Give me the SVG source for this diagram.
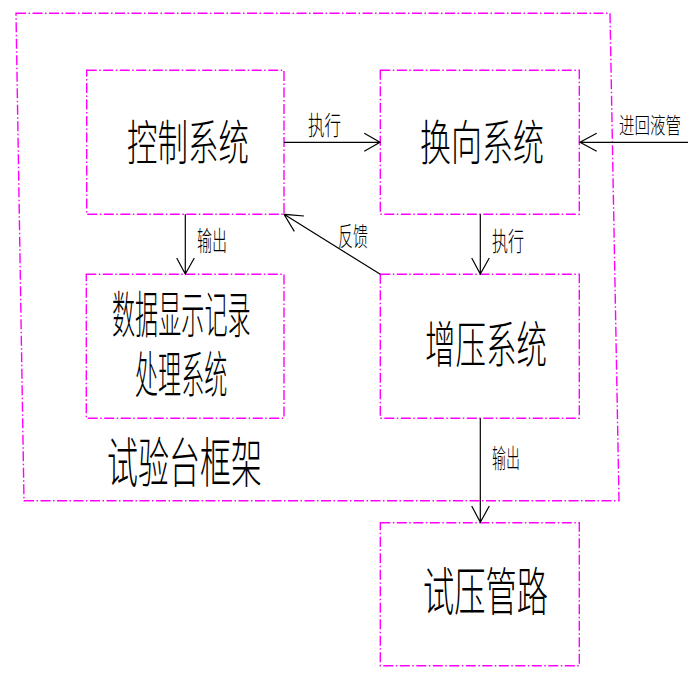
<svg xmlns="http://www.w3.org/2000/svg" width="688" height="676" viewBox="0 0 688 676">
<style>
.box{fill:none;stroke:#FF00FF;stroke-width:1.4;stroke-dasharray:10 2.5 1.5 2.5}
.ln{fill:none;stroke:#000;stroke-width:1.2}
text{font-family:"Liberation Sans","Noto Sans CJK SC","Noto Sans CJK JP",sans-serif;fill:#000;font-weight:300}
</style>
<rect width="688" height="676" fill="#fff"/>
<g id="frame">
<path class="box" d="M16,13.3 L610,13.3 L619,500.7 L24,500.7 Z"/>
<text transform="translate(107,483) scale(0.574,1)" font-size="54">试验台框架</text>
</g>
<g id="control">
<rect class="box" x="86.7" y="70.3" width="197.3" height="144"/>
<text transform="translate(127,160) scale(0.635,1)" font-size="48">控制系统</text>
</g>
<g id="reverse">
<rect class="box" x="380.3" y="70.3" width="199" height="144"/>
<text transform="translate(420,160) scale(0.646,1)" font-size="48">换向系统</text>
</g>
<g id="data">
<rect class="box" x="86.3" y="274.3" width="197.7" height="144"/>
<text transform="translate(112,333) scale(0.462,1)" font-size="50"><tspan x="0" y="0">数据显示记录</tspan><tspan x="49.8" y="60">处理系统</tspan></text>
</g>
<g id="booster">
<rect class="box" x="380.3" y="274.3" width="199" height="144"/>
<text transform="translate(425,363) scale(0.61,1)" font-size="50">增压系统</text>
</g>
<g id="pipe">
<rect class="box" x="380.3" y="522.7" width="199" height="143"/>
<text transform="translate(423,611) scale(0.601,1)" font-size="52">试压管路</text>
</g>
<g id="connectors">
<path class="ln" d="M284,142.3 L380,142.3 M364.3,133.3 L380,142.3 L364.3,151.3"/>
<text transform="translate(308,135) scale(0.635,1)" font-size="26">执行</text>
<path class="ln" d="M688,142.3 L580,142.3 M596.7,133.3 L580,142.3 L596.7,151.3"/>
<text transform="translate(619,133) scale(0.705,1)" font-size="22">进回液管</text>
<path class="ln" d="M185.3,214.3 L185.3,274 M176.7,258 L185.3,274 L194.3,258"/>
<text transform="translate(197,251) scale(0.556,1)" font-size="27">输出</text>
<path class="ln" d="M380.3,274.3 L284,214.3 M304,216 L284,214.3 L294.3,231.4"/>
<text transform="translate(338,246) scale(0.577,1)" font-size="26">反馈</text>
<path class="ln" d="M480.3,214.3 L480.3,274 M471.7,258 L480.3,274 L489.3,258"/>
<text transform="translate(492,251) scale(0.615,1)" font-size="26">执行</text>
<path class="ln" d="M480.3,418.3 L480.3,522.3 M471.7,506 L480.3,522.3 L489.3,506"/>
<text transform="translate(492,468) scale(0.538,1)" font-size="26">输出</text>
</g>
</svg>
